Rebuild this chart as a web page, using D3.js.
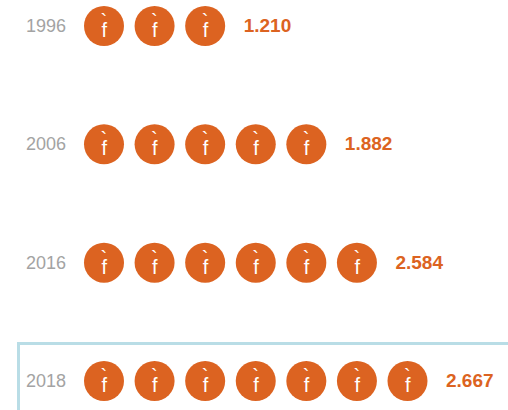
<!DOCTYPE html>
<html>
<head>
<meta charset="utf-8">
<script src="https://cdn.jsdelivr.net/npm/d3@7"></script>
<style>
html, body { margin:0; padding:0; background:#fff; }
svg { display:block; }
text { font-family:"Liberation Sans", Arial, sans-serif; }
</style>
</head>
<body>
<svg></svg>
<script>
var years = ["1996", "2006", "2016", "2018"];
var values = ["1.210", "1.882", "2.584", "2.667"];
var iconCounts = [3, 5, 6, 7];

var orange = "#dc6321";

var svg = d3.select("svg")
	.attr("width", 508)
	.attr("height", 410);

var yScale = d3.scalePoint()
	.domain(years)
	.range([26, 381]);

var xScale = d3.scaleLinear()
	.domain([0, 6])
	.range([104, 407.5]);

// box round the last year, open on the right and the bottom
svg.append("path")
	.attr("d", "M18.5,410V343.5H508")
	.attr("fill", "none")
	.attr("stroke", "#b9dde6")
	.attr("stroke-width", 3);

var rows = svg.selectAll("g.row")
	.data(years)
	.join("g")
	.attr("class", "row")
	.attr("transform", function(d){
		return "translate(0," + yScale(d) + ")";
	});

rows.append("text")
	.attr("x", 26)
	.attr("y", 6)
	.attr("font-size", 18)
	.attr("fill", "#a3a3a3")
	.text(function(d){ return d; });

rows.append("text")
	.attr("x", function(d, i){ return xScale(iconCounts[i] - 1) + 38.5; })
	.attr("y", 6)
	.attr("font-size", 19)
	.attr("font-weight", 700)
	.attr("fill", orange)
	.text(function(d, i){ return values[i]; });

var icons = rows.selectAll("g.icon")
	.data(function(d, i){ return d3.range(iconCounts[i]); })
	.join("g")
	.attr("class", "icon")
	.attr("transform", function(d){
		return "translate(" + xScale(d) + ",0)";
	});

icons.append("circle")
	.attr("r", 20)
	.attr("fill", orange);

// the pictogram: a grave accent above an f
icons.append("text")
	.attr("x", -3.5)
	.attr("y", 2)
	.attr("font-size", 20)
	.attr("fill", "#fff")
	.text("`");

icons.append("text")
	.attr("x", -2.5)
	.attr("y", 11)
	.attr("font-size", 20)
	.attr("fill", "#fff")
	.text("f");
</script>
</body>
</html>
